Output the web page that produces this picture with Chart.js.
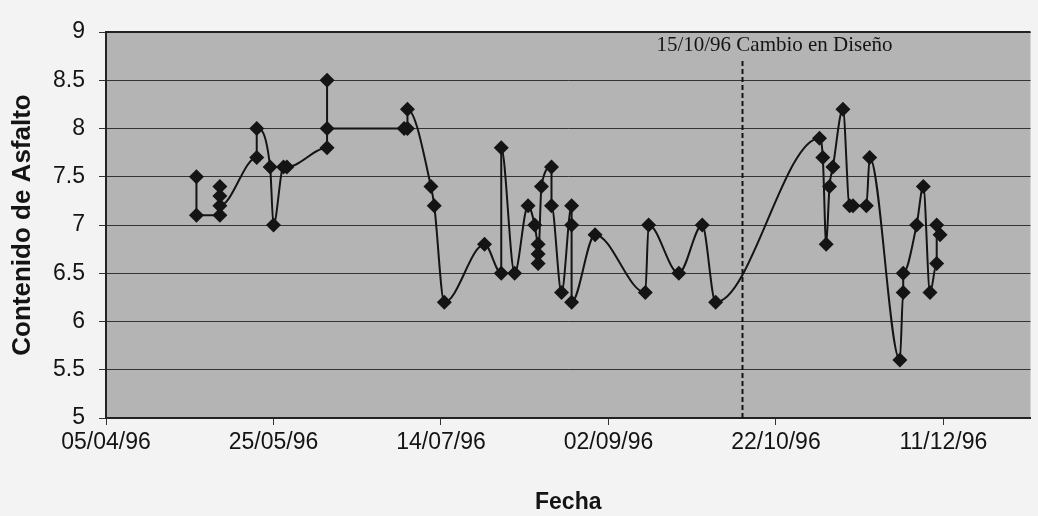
<!DOCTYPE html>
<html lang="es">
<head>
<meta charset="utf-8">
<title>Contenido de Asfalto</title>
<script src="https://cdn.jsdelivr.net/npm/chart.js@4.4.1/dist/chart.umd.min.js"></script>
<style>
  html, body { margin: 0; padding: 0; background: #f3f3f3; }
  #wrap { width: 1038px; height: 516px; position: relative; }
</style>
</head>
<body>
<div id="wrap"><canvas id="grafico"></canvas></div>
<script>
'use strict';

// ---------------------------------------------------------------------------
// Datos (dd/mm/aa), en el orden en que los une la línea
// ---------------------------------------------------------------------------

const fechas = [
    '02/05/96', '02/05/96', '09/05/96', '09/05/96', '09/05/96', '09/05/96',
    '20/05/96', '20/05/96', '24/05/96', '25/05/96', '28/05/96', '29/05/96',
    '10/06/96', '10/06/96', '10/06/96', '03/07/96', '04/07/96', '04/07/96',
    '11/07/96', '12/07/96', '15/07/96', '27/07/96', '01/08/96', '01/08/96',
    '05/08/96', '09/08/96', '11/08/96', '12/08/96', '12/08/96', '12/08/96',
    '13/08/96', '16/08/96', '16/08/96', '19/08/96', '22/08/96', '22/08/96',
    '22/08/96', '29/08/96', '13/09/96', '14/09/96', '23/09/96', '30/09/96',
    '04/10/96', '04/11/96', '05/11/96', '06/11/96', '07/11/96', '08/11/96',
    '11/11/96', '13/11/96', '14/11/96', '18/11/96', '19/11/96', '28/11/96',
    '29/11/96', '29/11/96', '03/12/96', '05/12/96', '07/12/96', '09/12/96',
    '09/12/96', '10/12/96',
];

const contenido = [
    7.5, 7.1, 7.1, 7.4, 7.3, 7.2,
    7.7, 8.0, 7.6, 7.0, 7.6, 7.6,
    7.8, 8.5, 8.0, 8.0, 8.0, 8.2,
    7.4, 7.2, 6.2, 6.8, 6.5, 7.8,
    6.5, 7.2, 7.0, 6.8, 6.7, 6.6,
    7.4, 7.6, 7.2, 6.3, 7.2, 7.0,
    6.2, 6.9, 6.3, 7.0, 6.5, 7.0,
    6.2, 7.9, 7.7, 6.8, 7.4, 7.6,
    8.2, 7.2, 7.2, 7.2, 7.7, 5.6,
    6.3, 6.5, 7.0, 7.4, 6.3, 6.6,
    7.0, 6.9,
];

const etiquetasX = ['05/04/96', '25/05/96', '14/07/96', '02/09/96', '22/10/96', '11/12/96'];
const origenX    = '05/04/96';
const finX       = '06/01/97';

const fechaCambio = '12/10/96';
const textoCambio = '15/10/96 Cambio en Diseño';

// ---------------------------------------------------------------------------
// Utilidades
// ---------------------------------------------------------------------------

/** 'dd/mm/aa' -> días desde origenX */
function dias(f) {
    const toMs = (s) => {
        const [d, m, a] = s.split('/').map(Number);
        return Date.UTC(1900 + a, m - 1, d);
    };
    return Math.round((toMs(f) - toMs(origenX)) / 86400000);
}

const SANS  = '"Liberation Sans", Arial, Helvetica, sans-serif';
const SERIF = '"Liberation Serif", "Times New Roman", serif';
const TINTA = '#141414';

// fondo gris del área de trazado, borde superior y línea de cambio de diseño
const fondo = {
    id: 'fondo',
    beforeDraw(chart) {
        const { ctx, chartArea: a, width, height } = chart;
        ctx.save();
        ctx.fillStyle = '#f3f3f3';
        ctx.fillRect(0, 0, width, height);
        ctx.fillStyle = '#b4b4b4';
        ctx.fillRect(a.left, a.top, a.right - a.left, a.bottom - a.top);
        ctx.restore();
    },
    beforeDatasetsDraw(chart) {
        const { ctx, chartArea: a, scales } = chart;
        const x = Math.round(scales.x.getPixelForValue(dias(fechaCambio))) + 0.5;
        ctx.save();
        ctx.strokeStyle = TINTA;
        ctx.lineWidth = 2;
        ctx.setLineDash([5, 3]);
        ctx.beginPath();
        ctx.moveTo(x, scales.y.getPixelForValue(8.7));
        ctx.lineTo(x, a.bottom);
        ctx.stroke();
        ctx.setLineDash([]);

        ctx.fillStyle = TINTA;
        ctx.font = '21px ' + SERIF;
        ctx.textAlign = 'center';
        ctx.textBaseline = 'alphabetic';
        ctx.fillText(textoCambio, x + 32, a.top + 19);

        // borde superior
        ctx.strokeStyle = '#222';
        ctx.lineWidth = 2;
        ctx.beginPath();
        ctx.moveTo(a.left, a.top);
        ctx.lineTo(a.right, a.top);
        ctx.stroke();
        ctx.restore();
    },
};

// ---------------------------------------------------------------------------
// Gráfico
// ---------------------------------------------------------------------------

const puntos = fechas.map((f, i) => ({ x: dias(f), y: contenido[i] }));

new Chart(document.getElementById('grafico'), {
    type: 'line',
    data: {
        datasets: [{
            data:                   puntos,
            borderColor:            TINTA,
            borderWidth:            2,
            cubicInterpolationMode: 'monotone',
            pointStyle:             'rectRot',
            pointRadius:            7.5,
            pointBackgroundColor:   TINTA,
            pointBorderColor:       TINTA,
            pointBorderWidth:       0,
        }],
    },
    options: {
        responsive: true,
        maintainAspectRatio: false,
        animation: false,
        layout: { padding: { top: 32, right: 0, bottom: 0, left: 0 } },
        plugins: {
            legend:  { display: false },
            tooltip: { enabled: false },
        },
        scales: {
            x: {
                type: 'linear',
                min:  0,
                max:  dias(finX),
                afterBuildTicks: (s) => { s.ticks = etiquetasX.map((f) => ({ value: dias(f) })); },
                afterFit: (s) => { s.height = 98; },
                ticks: {
                    callback:    (v, i) => etiquetasX[i],
                    font:        { family: SANS, size: 23 },
                    color:       TINTA,
                    padding:     4,
                    maxRotation: 0,
                    autoSkip:    false,
                },
                grid:   { drawOnChartArea: false, tickLength: 7, color: '#333' },
                border: { color: '#222', width: 2 },
                title: {
                    display: true,
                    text:    'Fecha',
                    color:   TINTA,
                    font:    { family: SANS, size: 23, weight: 'bold' },
                    padding: { top: 0, bottom: 0 },
                },
            },
            y: {
                min: 5,
                max: 9,
                afterFit: (s) => { s.width = 106; },
                ticks: {
                    stepSize: 0.5,
                    callback: (v) => String(v),
                    font:     { family: SANS, size: 23 },
                    color:    TINTA,
                    padding:  14,
                },
                grid:   { color: '#333', lineWidth: 1, tickLength: 7 },
                border: { color: '#222', width: 2 },
                title: {
                    display: true,
                    text:    'Contenido de Asfalto',
                    color:   TINTA,
                    font:    { family: SANS, size: 26, weight: 'bold' },
                    padding: { top: 7, bottom: 0 },
                },
            },
        },
    },
    plugins: [fondo],
});
</script>
</body>
</html>
